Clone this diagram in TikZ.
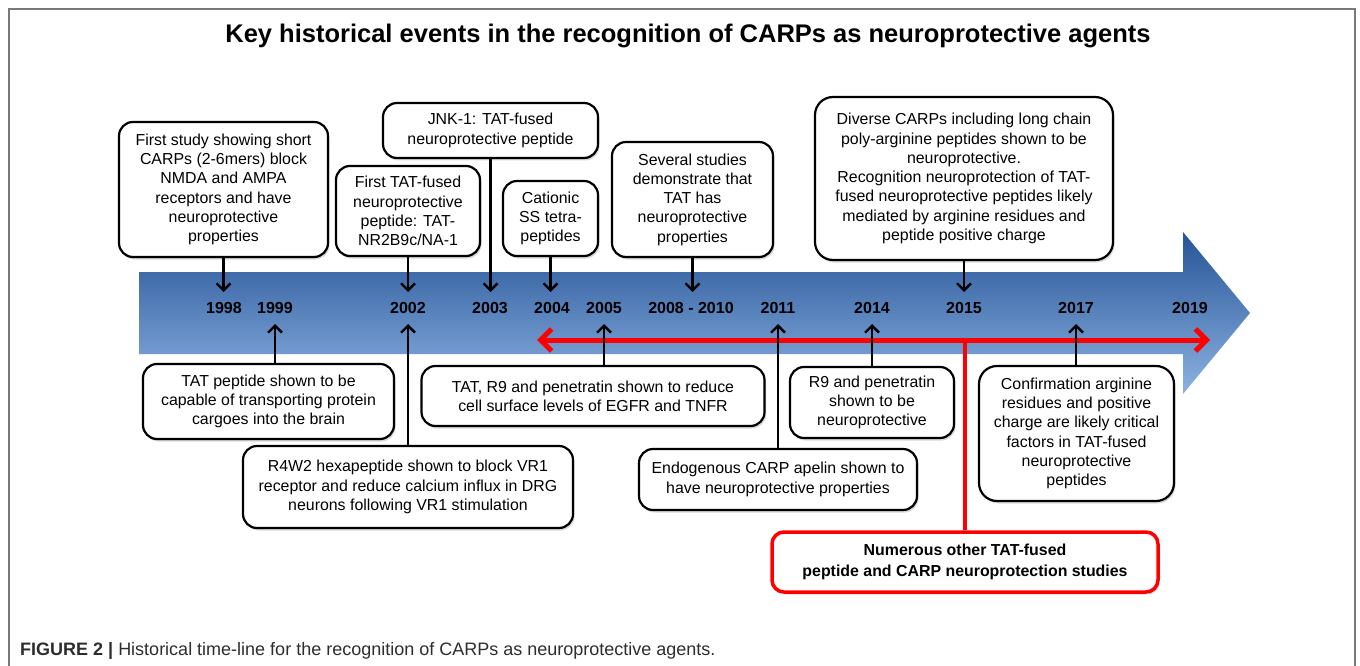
\documentclass[tikz,border=0pt]{standalone}
\usepackage{fontspec}
\setmainfont{Liberation Sans}
\usetikzlibrary{arrows.meta,shadows}
\definecolor{frameg}{RGB}{120,120,120}
\definecolor{arrtop}{RGB}{38,84,150}
\definecolor{arrbot}{RGB}{140,178,226}
\definecolor{capg}{RGB}{45,45,45}
\begin{document}
\begin{tikzpicture}[x=1pt,y=-1pt,
  evbox/.style={draw=black, line width=2.2pt, rounded corners=14pt, fill=white, align=center,
    inner sep=0pt, font=\fontsize{15.9}{19.3}\selectfont,
    drop shadow={shadow xshift=1.5pt, shadow yshift=-2.5pt, opacity=0.3}},
  redbox/.style={draw=red, line width=3.5pt, rounded corners=12pt, fill=white, align=center,
    inner sep=0pt, font=\fontsize{15.9}{20.5}\selectfont\bfseries,
    drop shadow={shadow xshift=1.5pt, shadow yshift=-2.5pt, opacity=0.3}},
  yr/.style={font=\fontsize{16}{19}\selectfont\bfseries, inner sep=0pt},
  tick/.style={line width=2.4pt, -{Straight Barb[length=7pt,width=14pt]}},
  redarr/.style={red, line width=5pt, {Straight Barb[length=11pt,width=22pt]}-{Straight Barb[length=11pt,width=22pt]}},
  redline/.style={red, line width=4pt}]
\useasboundingbox (0,0) rectangle (1360,666);
% frame
\draw[frameg, line width=2pt] (9,667) -- (9,9) -- (1355,9) -- (1355,667);
% title
\node[font=\fontsize{25.5}{30}\selectfont\bfseries] (title) at (688,36) {Key historical events in the recognition of CARPs as neuroprotective agents};
% big arrow
\shade[top color=arrtop, bottom color=arrbot] (139,272) -- (1183,272) -- (1183,232) -- (1250,313) -- (1183,394) -- (1183,354) -- (139,354) -- cycle;
% years
\node[yr] (y1998) at (224,308) {1998};
\node[yr] (y1999) at (275,308) {1999};
\node[yr] (y2002) at (408,308) {2002};
\node[yr] (y2003) at (490,308) {2003};
\node[yr] (y2004) at (552,308) {2004};
\node[yr] (y2005) at (604,308) {2005};
\node[yr] (y2008) at (691,308) {2008 - 2010};
\node[yr] (y2011) at (778,308) {2011};
\node[yr] (y2014) at (872,308) {2014};
\node[yr] (y2015) at (964,308) {2015};
\node[yr] (y2017) at (1076,308) {2017};
\node[yr] (y2019) at (1190,308) {2019};
% top boxes
\node[evbox, minimum width=209pt, minimum height=135pt] (b1) at (223.5,189.5) {First study showing short\\CARPs (2-6mers) block\\NMDA and AMPA\\receptors and have\\neuroprotective\\properties};
\node[evbox, minimum width=144pt, minimum height=90pt] (b2) at (408,211) {First TAT-fused\\neuroprotective\\peptide: TAT-\\NR2B9c/NA-1};
\node[evbox, minimum width=215pt, minimum height=55pt] (b3) at (490.5,130.5) {JNK-1: TAT-fused\\neuroprotective peptide};
\node[evbox, minimum width=95pt, minimum height=75pt] (b4) at (550.5,218.5) {Cationic\\SS tetra-\\peptides};
\node[evbox, minimum width=161pt, minimum height=115pt] (b5) at (692.5,199.5) {Several studies\\demonstrate that\\TAT has\\neuroprotective\\properties};
\node[evbox, minimum width=298pt, minimum height=163pt, rounded corners=18pt] (b6) at (964,178.5) {Diverse CARPs including long chain\\poly-arginine peptides shown to be\\neuroprotective.\\Recognition neuroprotection of TAT-\\fused neuroprotective peptides likely\\mediated by arginine residues and\\peptide positive charge};
% bottom boxes
\node[evbox, minimum width=251pt, minimum height=75pt] (b7) at (268.5,401.5) {TAT peptide shown to be\\capable of transporting protein\\cargoes into the brain};
\node[evbox, minimum width=330pt, minimum height=82pt] (b8) at (408,487) {R4W2 hexapeptide shown to block VR1\\receptor and reduce calcium influx in DRG\\neurons following VR1 stimulation};
\node[evbox, minimum width=343pt, minimum height=60pt] (b9) at (593,396) {TAT, R9 and penetratin shown to reduce\\cell surface levels of EGFR and TNFR};
\node[evbox, minimum width=164pt, minimum height=71pt] (b10) at (872,402.5) {R9 and penetratin\\shown to be\\neuroprotective};
\node[evbox, minimum width=278pt, minimum height=61pt] (b11) at (778,479.5) {Endogenous CARP apelin shown to\\have neuroprotective properties};
\node[evbox, minimum width=195pt, minimum height=135pt, rounded corners=18pt] (b12) at (1076.5,433.5) {Confirmation arginine\\residues and positive\\charge are likely critical\\factors in TAT-fused\\neuroprotective\\peptides};
\node[redbox, minimum width=386pt, minimum height=60pt] (rb) at (965,562) {Numerous other TAT-fused\\peptide and CARP neuroprotection studies};
% arrow tip coordinates
\coordinate (d1998) at (223.5,292);
\coordinate (d2002) at (408,292);
\coordinate (d2003) at (490.5,292);
\coordinate (d2004) at (550.5,292);
\coordinate (d2008) at (692.5,292);
\coordinate (d2015) at (964,292);
\coordinate (u1999) at (275,324);
\coordinate (u2002) at (408,324);
\coordinate (u2005) at (604,324);
\coordinate (u2011) at (778,324);
\coordinate (u2014) at (872,324);
\coordinate (u2017) at (1076,324);
\coordinate (rL) at (537,340);
\coordinate (rR) at (1210,340);
% red arrow and link
\draw[redarr] (rL) -- (rR);
\draw[redline] (rb.north) -- (rb.north |- rL);
% down arrows
\draw[tick] (b1.south) -- (d1998);
\draw[tick] (b2.south) -- (d2002);
\draw[tick] (b3.south) -- (d2003);
\draw[tick] (b4.south) -- (d2004);
\draw[tick] (b5.south) -- (d2008);
\draw[tick] (b6.south) -- (d2015);
% up arrows
\draw[tick] (b7.north -| u1999) -- (u1999);
\draw[tick] (b8.north -| u2002) -- (u2002);
\draw[tick] (b9.north -| u2005) -- (u2005);
\draw[tick] (b11.north -| u2011) -- (u2011);
\draw[tick] (b10.north -| u2014) -- (u2014);
\draw[tick] (b12.north -| u2017) -- (u2017);
% caption
\node[anchor=west, inner sep=0pt, text=capg, font=\fontsize{18}{21}\selectfont] (cap) at (20,651) {\textbf{FIGURE 2 |} Historical time-line for the recognition of CARPs as neuroprotective agents.};
\end{tikzpicture}
\end{document}
